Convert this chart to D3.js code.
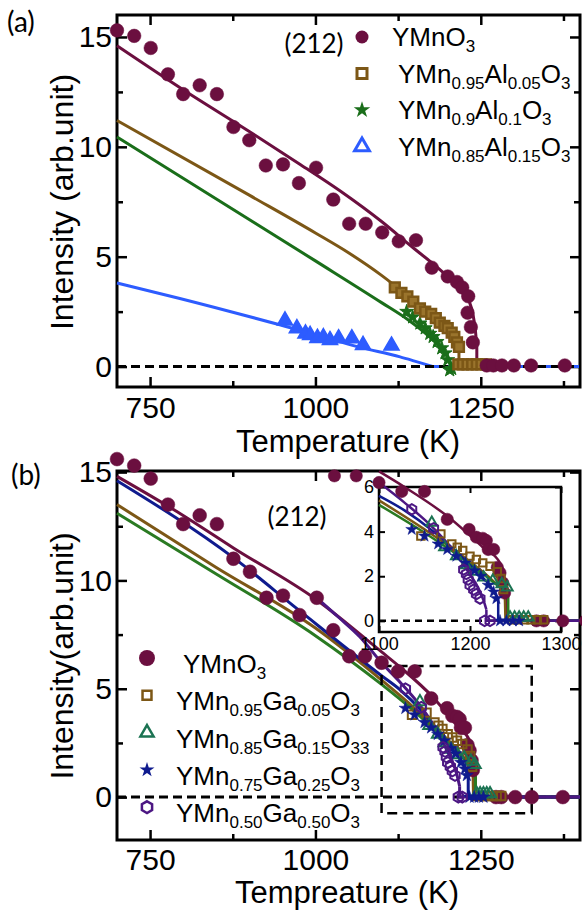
<!DOCTYPE html>
<html><head><meta charset="utf-8">
<script src="https://cdn.jsdelivr.net/npm/d3@7"></script>
<style>body{margin:0;background:#fff}svg{display:block}</style>
</head><body>
<svg id="c" width="582" height="910"></svg>
<script>
// ---------------- DATA ----------------
const xTicks = [750, 1000, 1250];
const xMinorTicks = [875, 1125, 1375];
const yTicks = [0, 5, 10, 15];
const yMinorTicks = [2.5, 7.5, 12.5];
const insetXTicks = [1100, 1200, 1300];
const insetYTicks = [0, 2, 4, 6];

// Panel (a): Al-doped, [T (K), intensity]
const aYMnO3 = [[700,15.3],[726,15.05],[751,14.5],[777,13.3],[800,12.4],[825,12.8],[851,12.4],[876,10.9],[900,10.3],[925,9.15],[951,9.2],[975,8.35],[1001,9.05],[1027,7.6],[1051,6.5],[1076,6.5],[1101,6.1],[1126,5.7],[1152,5.75],[1176,4.5],[1200,4.1],[1214,3.85],[1222,3.6],[1231,3.2],[1230,2.45],[1235,1.8],[1238,1.1],[1259,0.05],[1269,0.05],[1282,0.05],[1300,0.05],[1326,0.05],[1377,0.05]];
const aAl005 = [[1120,3.6],[1130,3.35],[1139,3.2],[1148,2.95],[1158,2.65],[1166,2.5],[1175,2.4],[1182,2.2],[1188,2.0],[1195,1.85],[1200,1.75],[1206,1.55],[1210,1.35],[1214,1.1],[1217,0.9],[1216,0.1],[1223,0.1],[1230,0.1],[1237,0.1],[1244,0.1],[1251,0.1],[1258,0.1]];
const aAl01 = [[1138,2.5],[1147,2.25],[1158,1.97],[1166,1.75],[1173,1.5],[1178,1.36],[1184,1.13],[1191,0.84],[1196,0.61],[1200,0.3],[1203,-0.16],[1206,-0.1]];
const aAl015 = [[954,2.09],[972,1.74],[985,1.5],[992,1.43],[1003,1.3],[1012,1.33],[1022,1.2],[1035,1.28],[1055,1.28],[1072,0.98],[1115,0.95]];

const aFitYMnO3 = [[700,14.6],[800,12.6],[900,10.7],[977,9.2],[1037,8.0],[1100,6.6],[1150,5.35],[1175,4.75],[1200,4.1],[1223,3.5],[1232,3.0],[1238,2.4],[1242,1.6],[1244,0.9],[1244,0],[1400,0]];
const aFitAl005 = [[700,11.2],[900,7.8],[1000,6.08],[1050,5.18],[1100,4.15],[1150,2.95],[1180,2.2],[1200,1.7],[1212,1.25],[1217,0.9],[1217,0],[1400,0]];
const aFitAl01 = [[700,10.45],[1000,4.81],[1100,2.91],[1140,2.13],[1173,1.34],[1190,0.85],[1198,0.55],[1203,0.2],[1204,0],[1400,0]];
const aFitAl015 = [[700,3.8],[795,3.1],[946,1.9],[1070,0.86],[1128,0.44],[1150,0.25],[1178,0],[1400,0]];

const aLabels = ["YMnO_{3}", "YMn_{0.95}Al_{0.05}O_{3}", "YMn_{0.9}Al_{0.1}O_{3}", "YMn_{0.85}Al_{0.15}O_{3}"];

// Panel (b): Ga-doped
const bYMnO3 = [[700,15.6],[726,15.3],[751,14.7],[777,13.5],[800,12.6],[825,13.0],[851,12.6],[876,11.0],[901,10.4],[926,9.2],[951,9.3],[976,8.4],[1002,9.2],[1027,7.7],[1051,6.5],[1075,6.5],[1100,6.2],[1125,5.8],[1150,5.8],[1175,4.55],[1199,4.1],[1207,3.75],[1214,3.7],[1218,3.6],[1220,3.2],[1226,3.2],[1230,2.4],[1233,2.15],[1236,1.7],[1238,1.25],[1273,0],[1281,0],[1302,0],[1327,0],[1374,0]];
const bGa005 = [[1146,3.8],[1168,3.9],[1180,3.45],[1186,3.3],[1192,3.15],[1200,2.9],[1207,2.75],[1214,2.6],[1222,2.45],[1230,2.2],[1234,1.9],[1237,1.4],[1246,0.05],[1253,0.05],[1260,0.05],[1267,0.05],[1274,0.05],[1281,0.05]];
const bGa015 = [[1158,4.4],[1172,3.3],[1185,2.9],[1195,2.5],[1205,2.2],[1215,1.95],[1225,1.8],[1235,1.65],[1241,1.5],[1244,0.15],[1249,0.15],[1254,0.15],[1259,0.15],[1264,0.15]];
const bGa025 = [[1136,4.1],[1150,3.8],[1165,3.45],[1175,3.2],[1185,2.9],[1195,2.6],[1205,2.25],[1212,2.0],[1220,1.6],[1226,1.3],[1229,1.0],[1233,0],[1240,0],[1247,0],[1254,0]];
const bGa050 = [[1136,5.0],[1160,4.15],[1193,2.3],[1196,2.1],[1198,1.85],[1200,1.6],[1204,1.4],[1207,1.2],[1211,1.0],[1216,0],[1222,0]];

const bFitYMnO3 = [[700,14.8],[800,13.0],[876,11.5],[1002,9.1],[1100,6.7],[1128,6.0],[1178,4.6],[1214,3.3],[1233,2.6],[1238,1.9],[1240,1.2],[1240,0],[1400,0]];
const bFitGa005 = [[700,13.5],[850,10.6],[1000,7.8],[1100,5.4],[1150,4.1],[1200,2.65],[1225,1.8],[1238,1.2],[1239,0],[1400,0]];
const bFitGa015 = [[700,13.1],[850,10.3],[1000,7.45],[1100,5.2],[1150,3.95],[1200,2.55],[1230,1.6],[1242,1.2],[1242,0],[1400,0]];
const bFitGa025 = [[700,14.6],[876,11.05],[974,8.65],[1100,5.6],[1128,4.95],[1160,4.0],[1200,2.5],[1225,1.4],[1231,1.0],[1231,0],[1400,0]];
const bFitGa050 = [[1002,9.2],[1035,8.3],[1067,7.4],[1100,6.2],[1128,5.3],[1160,4.15],[1180,3.25],[1198,2.2],[1210,1.4],[1215,0.9],[1218,0.5],[1218,0],[1400,0]];

const bLabels = ["YMnO_{3}", "YMn_{0.95}Ga_{0.05}O_{3}", "YMn_{0.85}Ga_{0.15}O_{33}", "YMn_{0.75}Ga_{0.25}O_{3}", "YMn_{0.50}Ga_{0.50}O_{3}"];
const zoomBox = [1100, 1327, -0.75, 6.05]; // Tmin, Tmax, Imin, Imax

// ---------------- STYLE ----------------
const FONT = "'Liberation Sans', Arial, sans-serif";
const LFONT = "Lato, 'Liberation Sans', sans-serif";
const C = {maroon:"#6b0f3f", brown:"#7c5716", green:"#1a6e1a", blue:"#2d5cff",
           gline:"#2a7a22", teal:"#1b7352", navy:"#0f1b8e", violet:"#4c1783"};

const svg = d3.select("#c");

const hexagon = {draw(ctx, size){ const r = Math.sqrt(size/(1.5*Math.sqrt(3)));
  for(let i=0;i<6;i++){ const a = -Math.PI/2 + i*Math.PI/3; const px=r*Math.cos(a), py=r*Math.sin(a);
    i?ctx.lineTo(px,py):ctx.moveTo(px,py);} ctx.closePath(); }};

function addText(g, x, y, str, fs, sub){
  const t = g.append("text").attr("x",x).attr("y",y).attr("font-family",FONT).attr("font-size",fs).attr("fill","#000");
  const parts = str.split(/(_\{[^}]*\})/).filter(s=>s.length);
  let shifted=false;
  parts.forEach(p=>{
    if(p.startsWith("_{")){
      t.append("tspan").attr("font-size",sub).attr("dy",shifted?0:6).text(p.slice(2,-1)); shifted=true;
    } else {
      t.append("tspan").attr("dy",shifted?-6:0).text(p); shifted=false;
    }
  });
  return t;
}

function axes(g, x, y, o){
  const [x0,x1]=x.range(), [yb,yt]=y.range();
  const style = s => { s.select(".domain").remove(); s.selectAll("line").attr("stroke","#000").attr("stroke-width",o.tw);
    s.selectAll("text").attr("font-family",FONT).attr("font-size",o.fs).attr("fill","#000"); };
  g.append("g").attr("transform",`translate(0,${yb})`).call(d3.axisBottom(x).tickValues(o.xt).tickSize(-o.tl).tickPadding(o.xpad).tickFormat(d3.format("d"))).call(style);
  g.append("g").attr("transform",`translate(${x0},0)`).call(d3.axisLeft(y).tickValues(o.yt).tickSize(-o.tl).tickPadding(o.ypad).tickFormat(d3.format("d"))).call(style);
  g.append("g").attr("transform",`translate(0,${yt})`).call(d3.axisTop(x).tickValues(o.xt).tickSize(-o.tl).tickFormat("")).call(style);
  g.append("g").attr("transform",`translate(${x1},0)`).call(d3.axisRight(y).tickValues(o.yt).tickSize(-o.tl).tickFormat("")).call(style);
  if(o.xm){
    g.append("g").attr("transform",`translate(0,${yb})`).call(d3.axisBottom(x).tickValues(o.xm).tickSize(-o.tm).tickFormat("")).call(style);
    g.append("g").attr("transform",`translate(0,${yt})`).call(d3.axisTop(x).tickValues(o.xm).tickSize(-o.tm).tickFormat("")).call(style);
  }
  if(o.ym){
    g.append("g").attr("transform",`translate(${x0},0)`).call(d3.axisLeft(y).tickValues(o.ym).tickSize(-o.tm).tickFormat("")).call(style);
    g.append("g").attr("transform",`translate(${x1},0)`).call(d3.axisRight(y).tickValues(o.ym).tickSize(-o.tm).tickFormat("")).call(style);
  }
  g.append("rect").attr("x",x0).attr("y",yt).attr("width",x1-x0).attr("height",yb-yt)
    .attr("fill","none").attr("stroke","#000").attr("stroke-width",o.fw);
}

// smooth (monotone) part down to the transition, then straight drop and zero line
function drawLine(g, x, y, data, color, w){
  let j = data.findIndex(d=>d[1]<=0);
  if(j<0) j = data.length-1;
  let k = (j>0 && data[j][0]===data[j-1][0]) ? j-1 : j;
  const smooth = data.slice(0,k+1), rest = data.slice(k);
  const mk = (pts,curve) => g.append("path").datum(pts).attr("fill","none").attr("stroke",color).attr("stroke-width",w)
    .attr("stroke-linejoin","round").attr("d", d3.line().curve(curve).x(d=>x(d[0])).y(d=>y(d[1])));
  mk(smooth, d3.curveMonotoneX);
  if(rest.length>1) mk(rest, d3.curveLinear);
}
function drawPts(g, x, y, data, type, size, fill, stroke, sw){
  g.selectAll(null).data(data).enter().append("path")
    .attr("transform",d=>`translate(${x(d[0])},${y(d[1])})`)
    .attr("d", d3.symbol().type(type).size(size))
    .attr("fill",fill).attr("stroke",stroke).attr("stroke-width",sw);
}
function zeroLine(g, x, y, t0, t1, w, dash){
  g.append("line").attr("x1",x(t0)).attr("x2",x(t1)).attr("y1",y(0)).attr("y2",y(0))
    .attr("stroke","#000").attr("stroke-width",w).attr("stroke-dasharray",dash);
}

const axOpts = {xt:xTicks, xm:xMinorTicks, yt:yTicks, ym:yMinorTicks, tl:10, tm:6, tw:2.5, fw:3, fs:30, xpad:10, ypad:5};

// ---------------- PANEL A ----------------
{
  const g = svg.append("g");
  const x = d3.scaleLinear().domain([700,1400]).range([117,580]);
  const y = d3.scaleLinear().domain([-0.93,16.0]).range([387,15]);
  axes(g, x, y, axOpts);
  drawLine(g,x,y,aFitYMnO3,C.maroon,3);
  drawLine(g,x,y,aFitAl005,C.brown,3);
  drawLine(g,x,y,aFitAl01,C.green,3);
  drawLine(g,x,y,aFitAl015,C.blue,3);
  zeroLine(g,x,y,700,1400,3,"9,5");
  drawPts(g,x,y,aAl015,d3.symbolTriangle,100,C.blue,C.blue,1.5);
  drawPts(g,x,y,aAl01,d3.symbolStar,60,C.green,C.green,1);
  drawPts(g,x,y,aAl005,d3.symbolSquare,95,"#9a742c",C.brown,2.5);
  drawPts(g,x,y,aYMnO3,d3.symbolCircle,145,C.maroon,C.maroon,0.5);
  // legend
  const types=[d3.symbolCircle,d3.symbolSquare,d3.symbolStar,d3.symbolTriangle];
  aLabels.forEach((lab,i)=>{
    const by = 46 + i*36.5;
    const m = g.append("path").attr("transform",`translate(362,${by-9})`);
    if(i===0) m.attr("d",d3.symbol().type(types[i]).size(133)).attr("fill",C.maroon);
    if(i===1) m.attr("d",d3.symbol().type(types[i]).size(100)).attr("fill","none").attr("stroke",C.brown).attr("stroke-width",3);
    if(i===2) m.attr("d",d3.symbol().type(types[i]).size(85)).attr("fill",C.green);
    if(i===3) m.attr("d",d3.symbol().type(types[i]).size(95)).attr("fill","none").attr("stroke",C.blue).attr("stroke-width",3);
    addText(g, i===0?392:398, by, lab, 26, 17);
  });
  g.append("text").attr("x",314).attr("y",53).attr("text-anchor","middle").attr("font-family",LFONT).attr("font-size",26).text("(212)");
  g.append("text").attr("x",7).attr("y",32).attr("font-family",LFONT).attr("font-size",28).text("(a)");
  g.append("text").attr("x",348).attr("y",452).attr("text-anchor","middle").attr("font-family",FONT).attr("font-size",31).text("Temperature (K)");
  g.append("text").attr("transform","translate(73,202) rotate(-90)").attr("text-anchor","middle").attr("font-family",FONT).attr("font-size",32).text("Intensity (arb.unit)");
}

// ---------------- PANEL B ----------------
{
  const g = svg.append("g");
  const x = d3.scaleLinear().domain([700,1400]).range([117,580]);
  const y = d3.scaleLinear().domain([-1.98,15.05]).range([840,471]);
  axes(g, x, y, Object.assign({}, axOpts, {xpad:9}));
  zeroLine(g,x,y,700,1400,3,"9,5");
  drawLine(g,x,y,bFitYMnO3,C.maroon,3);
  drawLine(g,x,y,bFitGa005,C.brown,3);
  drawLine(g,x,y,bFitGa015,C.gline,3);
  drawLine(g,x,y,bFitGa025,C.navy,3);
  drawLine(g,x,y,bFitGa050,C.violet,3);
  // zoom box
  g.append("rect").attr("x",x(zoomBox[0])).attr("y",y(zoomBox[3]))
    .attr("width",x(zoomBox[1])-x(zoomBox[0])).attr("height",y(zoomBox[2])-y(zoomBox[3]))
    .attr("fill","none").attr("stroke","#000").attr("stroke-width",2.5).attr("stroke-dasharray","10,6");
  drawPts(g,x,y,bYMnO3,d3.symbolCircle,150,C.maroon,C.maroon,0.5);
  drawPts(g,x,y,bGa005,d3.symbolSquare,70,"none",C.brown,2);
  drawPts(g,x,y,bGa015,d3.symbolTriangle,60,"none",C.teal,2);
  drawPts(g,x,y,bGa025,d3.symbolStar,50,C.navy,C.navy,0.5);
  drawPts(g,x,y,bGa050,hexagon,75,"none",C.violet,2);

  // legend
  bLabels.forEach((lab,i)=>{
    const by = 673 + i*37.3;
    const m = g.append("path").attr("transform",`translate(147,${by-15})`);
    if(i===0) m.attr("d",d3.symbol().type(d3.symbolCircle).size(200)).attr("fill",C.maroon);
    if(i===1) m.attr("d",d3.symbol().type(d3.symbolSquare).size(80)).attr("fill","none").attr("stroke",C.brown).attr("stroke-width",2.5);
    if(i===2) m.attr("d",d3.symbol().type(d3.symbolTriangle).size(75)).attr("fill","none").attr("stroke",C.teal).attr("stroke-width",2.5);
    if(i===3) m.attr("d",d3.symbol().type(d3.symbolStar).size(70)).attr("fill",C.navy);
    if(i===4) m.attr("d",d3.symbol().type(hexagon).size(90)).attr("fill","none").attr("stroke",C.violet).attr("stroke-width",2.5);
    addText(g, i===0?183:176, by, lab, 26, 17);
  });
  g.append("text").attr("x",297).attr("y",526).attr("text-anchor","middle").attr("font-family",LFONT).attr("font-size",26).text("(212)");
  g.append("text").attr("x",11).attr("y",485).attr("font-family",LFONT).attr("font-size",28).text("(b)");
  g.append("text").attr("x",347).attr("y",903).attr("text-anchor","middle").attr("font-family",FONT).attr("font-size",31).text("Tempreature (K)");
  g.append("text").attr("transform","translate(73,656) rotate(-90)").attr("text-anchor","middle").attr("font-family",FONT).attr("font-size",32).text("Intensity(arb.unit)");

  // ---------- INSET ----------
  const gi = svg.append("g");
  const xi = d3.scaleLinear().domain([1100,1300]).range([379,561]);
  const yi = d3.scaleLinear().domain([-0.5,6]).range([632,487]);
  gi.append("rect").attr("x",379).attr("y",487).attr("width",182).attr("height",145).attr("fill","#fff");
  axes(gi, xi, yi, {xt:insetXTicks, yt:insetYTicks, tl:6, tw:2, fw:2.5, fs:18, xpad:5, ypad:5});
  zeroLine(gi,xi,yi,1100,1300,2.5,"7,5");
  const f = d => d.filter(p=>p[0]>=1100);
  drawLine(gi,xi,yi,f(bFitYMnO3),C.maroon,2.5);
  drawLine(gi,xi,yi,f(bFitGa005),C.brown,2.5);
  drawLine(gi,xi,yi,f(bFitGa015),C.gline,2.5);
  drawLine(gi,xi,yi,f(bFitGa025),C.navy,2.5);
  drawLine(gi,xi,yi,f(bFitGa050),C.violet,2.5);
  drawPts(gi,xi,yi,bYMnO3.filter(p=>p[0]>=1040),d3.symbolCircle,120,C.maroon,C.maroon,0.5);
  drawPts(gi,xi,yi,bGa005,d3.symbolSquare,55,"none",C.brown,2);
  drawPts(gi,xi,yi,bGa015,d3.symbolTriangle,50,"none",C.teal,2);
  drawPts(gi,xi,yi,bGa025,d3.symbolStar,45,C.navy,C.navy,0.5);
  drawPts(gi,xi,yi,bGa050,hexagon,70,"none",C.violet,2);
}
</script>
</body></html>
